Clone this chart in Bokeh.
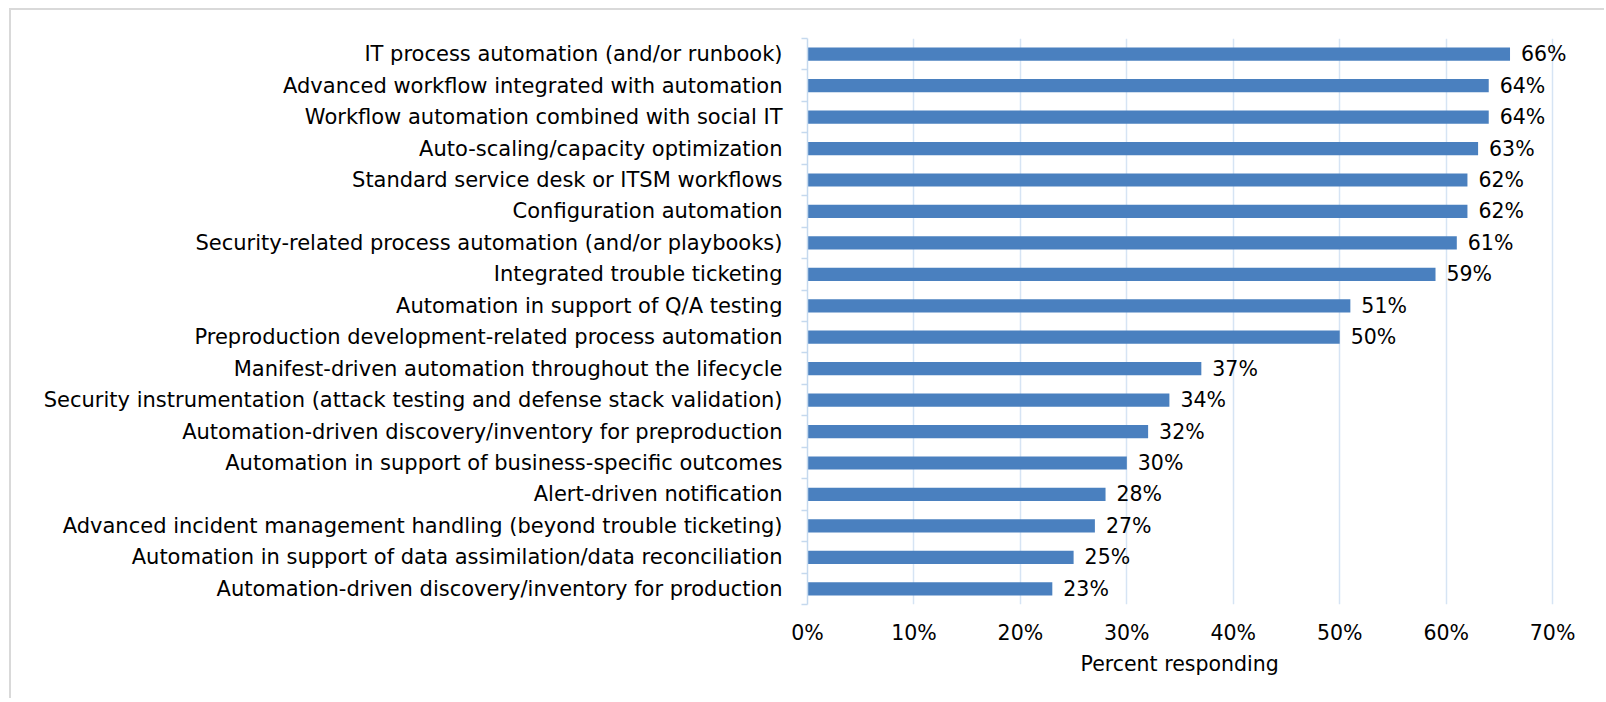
from bokeh.plotting import figure
from bokeh.models import FixedTicker, NumeralTickFormatter, ColumnDataSource, Range1d, LabelSet, Title
from bokeh.core.properties import value
from bokeh.embed import file_html
from bokeh.resources import INLINE

categories = [
    "IT process automation (and/or runbook)",
    "Advanced workflow integrated with automation",
    "Workflow automation combined with social IT",
    "Auto-scaling/capacity optimization",
    "Standard service desk or ITSM workflows",
    "Configuration automation",
    "Security-related process automation (and/or playbooks)",
    "Integrated trouble ticketing",
    "Automation in support of Q/A testing",
    "Preproduction development-related process automation",
    "Manifest-driven automation throughout the lifecycle",
    "Security instrumentation (attack testing and defense stack validation)",
    "Automation-driven discovery/inventory for preproduction",
    "Automation in support of business-specific outcomes",
    "Alert-driven notification",
    "Advanced incident management handling (beyond trouble ticketing)",
    "Automation in support of data assimilation/data reconciliation",
    "Automation-driven discovery/inventory for production",
]
values = [66, 64, 64, 63, 62, 62, 61, 59, 51, 50, 37, 34, 32, 30, 28, 27, 25, 23]
x_ticks = [0, 10, 20, 30, 40, 50, 60, 70]
x_label = "Percent responding"

n = len(categories)
ypos = [n - i - 0.5 for i in range(n)]
src = ColumnDataSource(dict(
    y=ypos,
    v=[x / 100 for x in values],
    lab=[f"{x}%" for x in values],
    cat=categories,
))

FONT = "DejaVu Sans"
FS_CAT = "21px"
FS = "20.5px"
GRID = "#D6E4F4"

p = figure(
    width=1595, height=690,
    x_range=Range1d(0, 0.745), y_range=Range1d(0, n),
    output_backend="svg", toolbar_location=None,
    min_border_left=796, min_border_right=6, min_border_top=28, min_border_bottom=96,
    margin=(8, 0, 0, 9),
    styles={"border-left": "2px solid #D9D9D9", "border-top": "2px solid #D9D9D9"},
)
p.outline_line_color = None
p.background_fill_color = "white"
p.border_fill_color = "white"

p.hbar(y="y", right="v", left=0, height=0.42, source=src,
       fill_color="#4A80BF", line_color=None)
labels = LabelSet(x="v", y="y", text="lab", source=src, x_offset=11,
                  text_baseline="middle", text_align="left",
                  text_font=value(FONT), text_font_size=value(FS), text_color="#000000")
p.add_layout(labels)

# x axis
p.xaxis.ticker = FixedTicker(ticks=[t / 100 for t in x_ticks])
p.xaxis.formatter = NumeralTickFormatter(format="0%")
p.xaxis.axis_line_color = None
p.xaxis.major_tick_line_color = None
p.xaxis.minor_tick_line_color = None
p.xaxis.major_tick_out = 0
p.xaxis.major_tick_in = 0
p.xaxis.major_label_standoff = 16
p.xaxis.major_label_text_font = FONT
p.xaxis.major_label_text_font_size = FS
p.xaxis.major_label_text_color = "#000000"

xt = Title(text=x_label, align="left", offset=273, standoff=9,
           text_font=FONT, text_font_size=FS, text_font_style="normal",
           text_color="#000000", vertical_align="top")
p.add_layout(xt, "below")

# y axis
p.yaxis.ticker = FixedTicker(ticks=ypos, minor_ticks=list(range(n + 1)))
p.yaxis.major_label_overrides = {y: c for y, c in zip(ypos, categories)}
p.yaxis.major_tick_line_color = None
p.yaxis.minor_tick_line_color = "#C5D9EE"
p.yaxis.minor_tick_line_width = 1.5
p.yaxis.minor_tick_out = 6
p.yaxis.minor_tick_in = 0
p.yaxis.axis_line_color = "#C5D9EE"
p.yaxis.axis_line_width = 1.5
p.yaxis.major_label_standoff = 19
p.yaxis.major_tick_out = 0
p.yaxis.major_label_text_font = FONT
p.yaxis.major_label_text_font_size = FS_CAT
p.yaxis.major_label_text_color = "#000000"

p.xgrid.ticker = FixedTicker(ticks=[t / 100 for t in x_ticks])
p.xgrid.grid_line_color = GRID
p.xgrid.grid_line_width = 1.5
p.ygrid.grid_line_color = None

open("out.html", "w").write(file_html(p, INLINE))
